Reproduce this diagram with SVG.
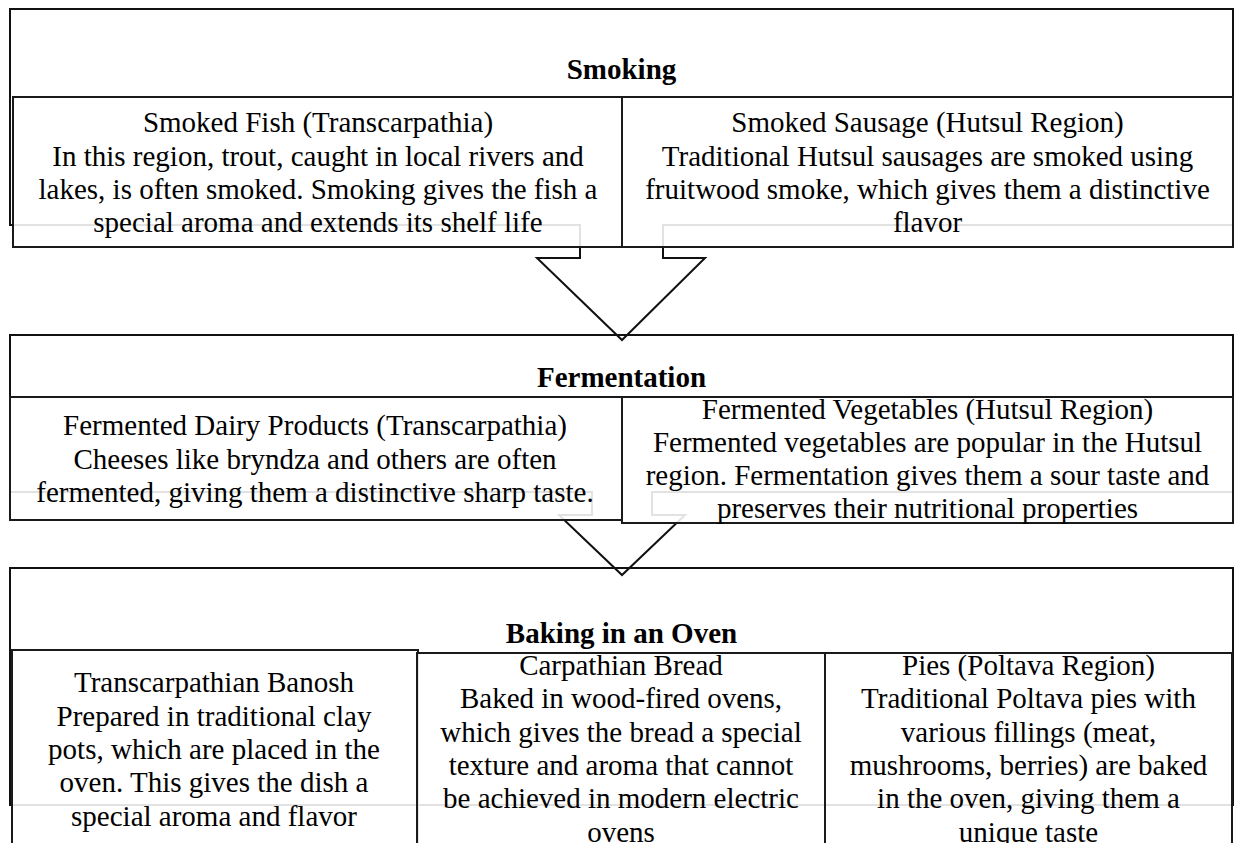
<svg xmlns="http://www.w3.org/2000/svg" width="1237" height="843" viewBox="0 0 1237 843">
<style>
.shape{fill:none;stroke:#111;stroke-width:2;stroke-linecap:square;stroke-linejoin:miter}
.box{fill:#fff;fill-opacity:0.88;stroke:#1a1a1a;stroke-width:2}
.hd{font-family:"Liberation Serif","Times New Roman",serif;font-size:29px;font-weight:bold;text-anchor:middle;fill:#000}
.tx{font-family:"Liberation Serif","Times New Roman",serif;font-size:29px;text-anchor:middle;fill:#000}
</style>
<rect width="1237" height="843" fill="#fff"/>
<!-- section outlines -->
<g id="smoking-frame"><path class="shape" d="M580,225 H10 V9 H1233 V225 H663"/></g>
<g id="fermentation-frame"><path class="shape" d="M592,492 H10 V335 H1233 V492 H652"/></g>
<g id="baking-frame"><path class="shape" d="M10,805 V568 H1233 V805 Z"/></g>
<g id="connectors">
<path class="shape" d="M580,225 V258 H537 L622,340 L705,258 H663 V225"/>
<path class="shape" d="M592,492 V515 H559 L622,575 L685,515 H652 V492"/>
</g>
<!-- Smoking -->
<g id="smoking">
<text class="hd" x="621.5" y="79">Smoking</text>
</g>
<g id="smoked-fish">
<rect class="box" x="13" y="97" width="609" height="150"/>
<text class="tx" x="318"><tspan x="318" y="132">Smoked Fish (Transcarpathia)</tspan><tspan x="318" y="165.5">In this region, trout, caught in local rivers and</tspan><tspan x="318" y="199">lakes, is often smoked. Smoking gives the fish a</tspan><tspan x="318" y="232">special aroma and extends its shelf life</tspan></text>
</g>
<g id="smoked-sausage">
<rect class="box" x="622" y="97" width="611" height="150"/>
<text class="tx" x="927.5"><tspan x="927.5" y="132">Smoked Sausage (Hutsul Region)</tspan><tspan x="927.5" y="165.5">Traditional Hutsul sausages are smoked using</tspan><tspan x="927.5" y="199">fruitwood smoke, which gives them a distinctive</tspan><tspan x="927.5" y="232">flavor</tspan></text>
</g>
<!-- Fermentation -->
<g id="fermentation">
<text class="hd" x="621.5" y="387">Fermentation</text>
</g>
<g id="fermented-dairy">
<rect class="box" x="10" y="397" width="612" height="123"/>
<text class="tx" x="315"><tspan x="315" y="435">Fermented Dairy Products (Transcarpathia)</tspan><tspan x="315" y="468.5">Cheeses like bryndza and others are often</tspan><tspan x="315" y="502">fermented, giving them a distinctive sharp taste.</tspan></text>
</g>
<g id="fermented-vegetables">
<rect class="box" x="622" y="397" width="611" height="126"/>
<text class="tx" x="927.5"><tspan x="927.5" y="418.5">Fermented Vegetables (Hutsul Region)</tspan><tspan x="927.5" y="452">Fermented vegetables are popular in the Hutsul</tspan><tspan x="927.5" y="485">region. Fermentation gives them a sour taste and</tspan><tspan x="927.5" y="518">preserves their nutritional properties</tspan></text>
</g>
<!-- Baking -->
<g id="baking">
<text class="hd" x="621.5" y="643">Baking in an Oven</text>
</g>
<g id="banosh">
<rect class="box" x="12" y="650" width="406" height="220"/>
<text class="tx" x="214"><tspan x="214" y="692">Transcarpathian Banosh</tspan><tspan x="214" y="725.5">Prepared in traditional clay</tspan><tspan x="214" y="759">pots, which are placed in the</tspan><tspan x="214" y="792">oven. This gives the dish a</tspan><tspan x="214" y="825.5">special aroma and flavor</tspan></text>
</g>
<g id="carpathian-bread">
<rect class="box" x="417" y="653" width="408" height="220"/>
<text class="tx" x="621"><tspan x="621" y="675">Carpathian Bread</tspan><tspan x="621" y="708">Baked in wood-fired ovens,</tspan><tspan x="621" y="741.5">which gives the bread a special</tspan><tspan x="621" y="775">texture and aroma that cannot</tspan><tspan x="621" y="808">be achieved in modern electric</tspan><tspan x="621" y="841.5">ovens</tspan></text>
</g>
<g id="poltava-pies">
<rect class="box" x="825" y="653" width="407" height="220"/>
<text class="tx" x="1028.5"><tspan x="1028.5" y="675">Pies (Poltava Region)</tspan><tspan x="1028.5" y="708">Traditional Poltava pies with</tspan><tspan x="1028.5" y="741.5">various fillings (meat,</tspan><tspan x="1028.5" y="775">mushrooms, berries) are baked</tspan><tspan x="1028.5" y="808">in the oven, giving them a</tspan><tspan x="1028.5" y="841.5">unique taste</tspan></text>
</g>
</svg>
